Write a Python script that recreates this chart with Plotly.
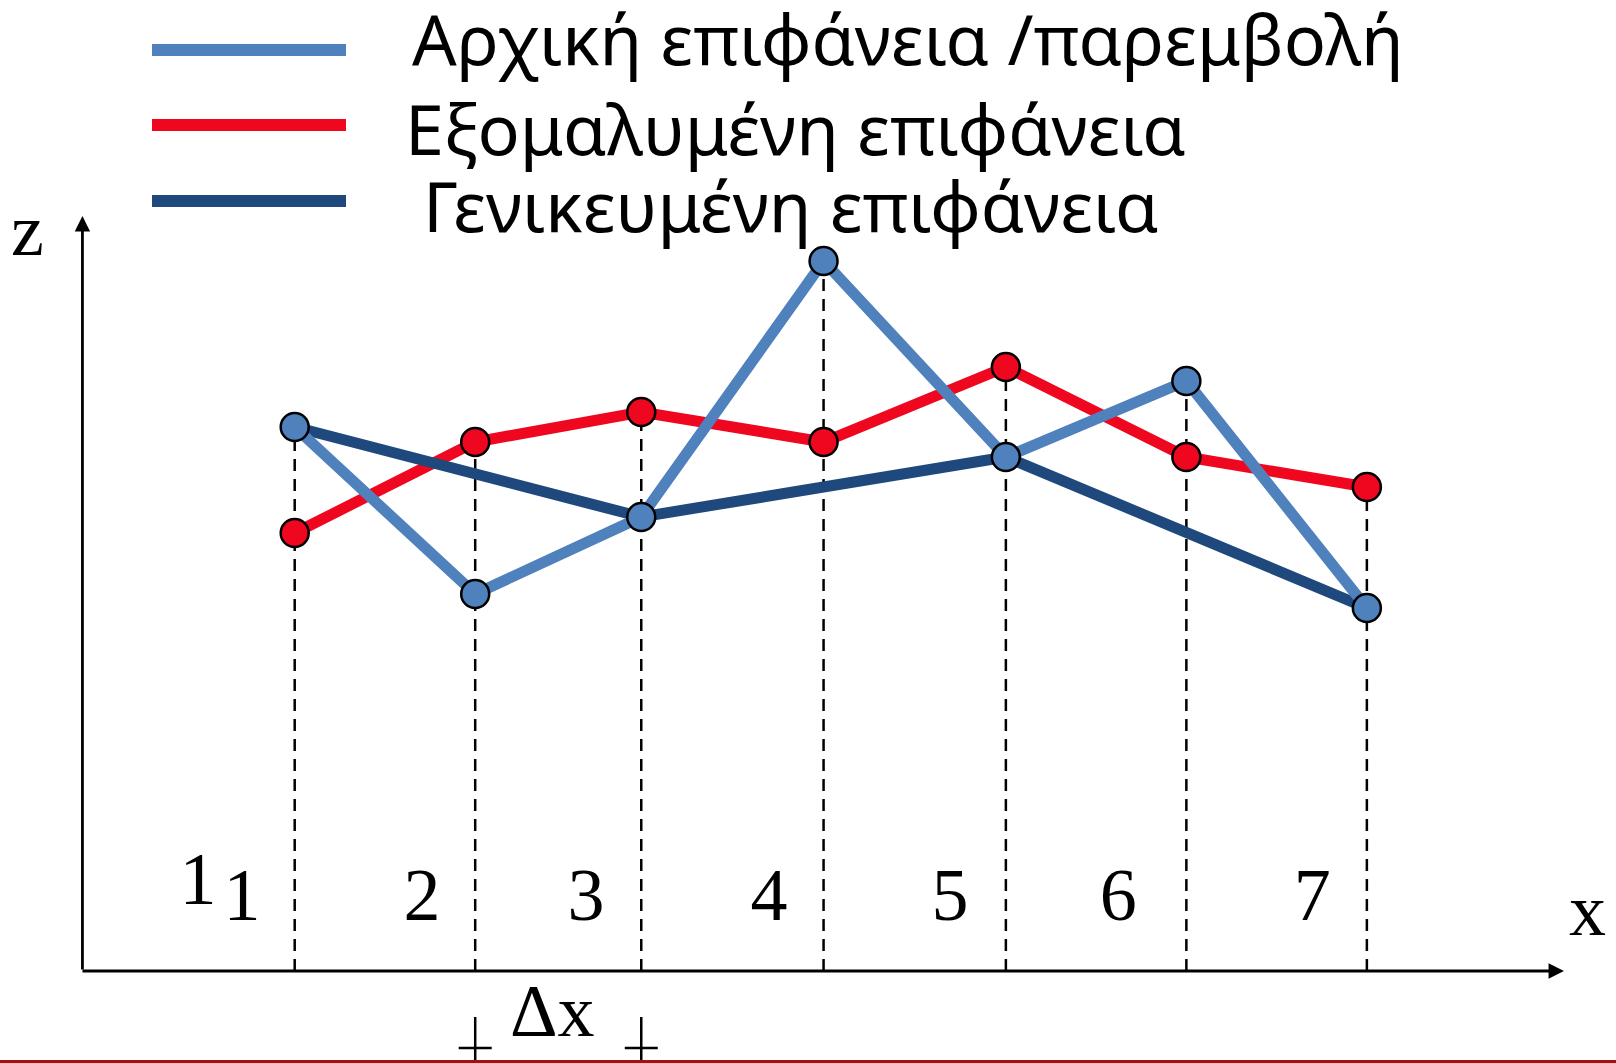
import plotly.graph_objects as go

W, H = 1616, 1063

# ---------------- data ----------------
x_nodes = [1.0, 2.0, 2.92, 3.93, 4.94, 5.94, 6.94]
z_initial = [5.44, 3.77, 4.54, 7.10, 5.14, 5.90, 3.63]      # Αρχική επιφάνεια /παρεμβολή
z_smoothed = [4.38, 5.29, 5.59, 5.29, 6.04, 5.14, 4.84]     # Εξομαλυμένη επιφάνεια
generalized_idx = [0, 2, 4, 6]                              # Γενικευμένη επιφάνεια (subset of nodes)

cell_labels = ["1", "1", "2", "3", "4", "5", "6", "7"]
cell_label_x = [0.464, 0.708, 1.705, 2.614, 3.628, 4.631, 5.562, 6.637]
cell_label_z = [0.86, 0.70, 0.70, 0.70, 0.70, 0.70, 0.70, 0.70]

legend_names = ["Αρχική επιφάνεια /παρεμβολή", "Εξομαλυμένη επιφάνεια", "Γενικευμένη επιφάνεια"]

# ---------------- style ----------------
C_LIGHT = "#4f81bd"
C_RED = "#ef061f"
C_DARK = "#1f497d"
SERIF = "Liberation Serif"
SANS = "Noto Sans"

X_RANGE = [-0.6327, 8.3202]
Y_RANGE = [-0.92, 9.71]
X_ORIGIN, Z_ORIGIN = -0.176, 0.0
Z_TOP, X_TIP = 7.55, 8.032


def px(p):
    return p / W


def py(p):
    return 1 - p / H


fig = go.Figure()

# dashed verticals from the upper marker of each column down to the x axis
for xi, a, b in zip(x_nodes, z_initial, z_smoothed):
    fig.add_trace(go.Scatter(x=[xi, xi], y=[Z_ORIGIN, max(a, b)], mode="lines",
                             line=dict(color="black", width=2.5, dash="12px,8px"),
                             hoverinfo="skip", showlegend=False))

# lines
fig.add_trace(go.Scatter(x=x_nodes, y=z_smoothed, mode="lines",
                         line=dict(color=C_RED, width=11), showlegend=False))
fig.add_trace(go.Scatter(x=[x_nodes[i] for i in generalized_idx],
                         y=[z_initial[i] for i in generalized_idx], mode="lines",
                         line=dict(color=C_DARK, width=11), showlegend=False))
fig.add_trace(go.Scatter(x=x_nodes, y=z_initial, mode="lines",
                         line=dict(color=C_LIGHT, width=11), showlegend=False))

# markers
fig.add_trace(go.Scatter(x=x_nodes, y=z_smoothed, mode="markers",
                         marker=dict(color=C_RED, size=28, line=dict(color="black", width=2.5)),
                         showlegend=False))
fig.add_trace(go.Scatter(x=x_nodes, y=z_initial, mode="markers",
                         marker=dict(color=C_LIGHT, size=28, line=dict(color="black", width=2.5)),
                         showlegend=False))

# cell labels
fig.add_trace(go.Scatter(x=cell_label_x, y=cell_label_z, mode="text", text=cell_labels,
                         textposition="middle center",
                         textfont=dict(family=SERIF, size=74, color="black"),
                         showlegend=False, hoverinfo="skip"))

annotations = []
# axes with arrowheads
annotations.append(dict(x=X_ORIGIN, y=Z_TOP, ax=X_ORIGIN, ay=Z_ORIGIN, xref="x", yref="y",
                        axref="x", ayref="y", showarrow=True, arrowhead=2, arrowsize=1.1,
                        arrowwidth=2.8, arrowcolor="black", text="", standoff=0))
annotations.append(dict(x=X_TIP, y=Z_ORIGIN, ax=X_ORIGIN - 0.008, ay=Z_ORIGIN, xref="x", yref="y",
                        axref="x", ayref="y", showarrow=True, arrowhead=2, arrowsize=1.1,
                        arrowwidth=2.8, arrowcolor="black", text="", standoff=0))
# axis titles
annotations.append(dict(x=-0.478, y=7.41, xref="x", yref="y", text="z", showarrow=False,
                        font=dict(family=SERIF, size=74, color="black"),
                        xanchor="center", yanchor="middle"))
annotations.append(dict(x=8.160, y=0.61, xref="x", yref="y", text="x", showarrow=False,
                        font=dict(family=SERIF, size=74, color="black"),
                        xanchor="center", yanchor="middle"))
# Δx
annotations.append(dict(x=(x_nodes[1] + x_nodes[2]) / 2 - 0.03, y=-0.40, xref="x", yref="y",
                        text="Δx", showarrow=False,
                        font=dict(family=SERIF, size=74, color="black"),
                        xanchor="center", yanchor="middle"))

# legend texts
legend_text_x = [410, 403, 421]
legend_text_y = [38, 128, 205]
for name, tx, ty in zip(legend_names, legend_text_x, legend_text_y):
    annotations.append(dict(x=px(tx), y=py(ty), xref="paper", yref="paper", text=name,
                            showarrow=False, xanchor="left", yanchor="middle",
                            font=dict(family=SANS, size=70, color="black")))

shapes = []
# legend swatches
for col, ly in zip([C_LIGHT, C_RED, C_DARK], [50, 125, 201]):
    shapes.append(dict(type="line", xref="paper", yref="paper", x0=px(152), x1=px(346),
                       y0=py(ly), y1=py(ly), line=dict(color=col, width=12)))
# Δx ticks
half = 0.0914
for xi in [x_nodes[1], x_nodes[2]]:
    shapes.append(dict(type="line", xref="x", yref="y", x0=xi, x1=xi, y0=-0.46, y1=Y_RANGE[0],
                       line=dict(color="black", width=2.5)))
    shapes.append(dict(type="line", xref="x", yref="y", x0=xi - half, x1=xi + half,
                       y0=-0.77, y1=-0.77, line=dict(color="black", width=2.5)))
# dark red rule at the bottom
shapes.append(dict(type="line", xref="paper", yref="paper", x0=0, x1=1, y0=py(1061.5), y1=py(1061.5),
                   line=dict(color="#a50f0f", width=3)))

fig.update_layout(
    width=W, height=H, margin=dict(l=0, r=0, t=0, b=0),
    paper_bgcolor="white", plot_bgcolor="white",
    xaxis=dict(range=X_RANGE, visible=False, fixedrange=True),
    yaxis=dict(range=Y_RANGE, visible=False, fixedrange=True),
    annotations=annotations, shapes=shapes, showlegend=False,
)

fig.write_html(
    "out.html",
    config={"displayModeBar": False},
    post_script="document.body.style.margin='0';document.body.style.padding='0';"
                "document.body.style.overflow='hidden';",
)
